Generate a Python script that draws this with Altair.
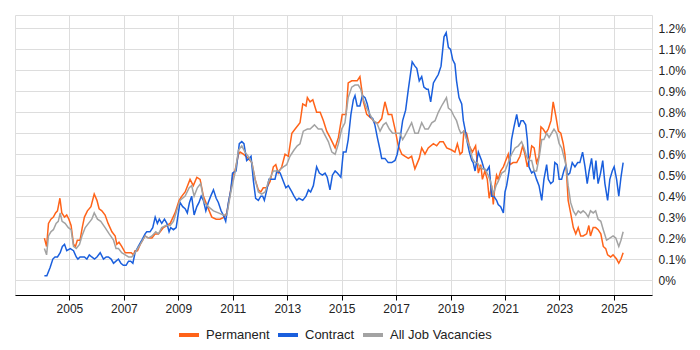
import altair as alt
import pandas as pd

# Permanent (orange)
perm_year = [2004.08, 2004.16, 2004.23, 2004.32, 2004.41, 2004.49, 2004.56, 2004.65, 2004.72, 2004.82, 2004.90, 2004.98,
             2005.06, 2005.15, 2005.22, 2005.29, 2005.39, 2005.47, 2005.55, 2005.66, 2005.79, 2005.91, 2006.01, 2006.09,
             2006.19, 2006.31, 2006.42, 2006.56, 2006.68, 2006.74, 2006.82, 2006.92, 2007.05, 2007.17, 2007.27, 2007.35,
             2007.41, 2007.50, 2007.60, 2007.78, 2007.90, 2008.03, 2008.15, 2008.27, 2008.45, 2008.58, 2008.70, 2008.88,
             2009.03, 2009.13, 2009.25, 2009.43, 2009.55, 2009.68, 2009.80, 2009.92, 2010.07, 2010.23, 2010.39, 2010.53,
             2010.68, 2010.78, 2010.90, 2011.02, 2011.08, 2011.21, 2011.27, 2011.39, 2011.57, 2011.70, 2011.82, 2011.94,
             2012.03, 2012.12, 2012.25, 2012.37, 2012.49, 2012.58, 2012.67, 2012.80, 2012.92, 2013.04, 2013.17, 2013.29,
             2013.47, 2013.57, 2013.69, 2013.74, 2013.84, 2013.94, 2014.08, 2014.21, 2014.33, 2014.45, 2014.57, 2014.76,
             2014.88, 2015.02, 2015.16, 2015.24, 2015.37, 2015.49, 2015.57, 2015.67, 2015.80, 2015.92, 2016.10, 2016.22,
             2016.35, 2016.47, 2016.59, 2016.71, 2016.84, 2016.96, 2017.08, 2017.21, 2017.33, 2017.45, 2017.57, 2017.69,
             2017.85, 2017.94, 2018.06, 2018.18, 2018.37, 2018.49, 2018.61, 2018.73, 2018.86, 2019.04, 2019.16, 2019.25,
             2019.35, 2019.43, 2019.49, 2019.59, 2019.69, 2019.80, 2019.92, 2020.02, 2020.11, 2020.17, 2020.26, 2020.35,
             2020.42, 2020.51, 2020.57, 2020.63, 2020.69, 2020.75, 2020.84, 2020.94, 2021.00, 2021.12, 2021.18, 2021.30,
             2021.43, 2021.55, 2021.65, 2021.73, 2021.82, 2021.92, 2021.98, 2022.07, 2022.16, 2022.25, 2022.32, 2022.40,
             2022.50, 2022.59, 2022.69, 2022.77, 2022.87, 2022.96, 2023.05, 2023.14, 2023.20, 2023.26, 2023.32, 2023.41,
             2023.51, 2023.60, 2023.69, 2023.78, 2023.87, 2024.00, 2024.08, 2024.14, 2024.24, 2024.33, 2024.42, 2024.52,
             2024.61, 2024.70, 2024.77, 2024.88, 2024.97, 2025.10, 2025.18, 2025.26, 2025.34]
perm_val = [0.20, 0.16, 0.27, 0.29, 0.30, 0.32, 0.33, 0.39, 0.32, 0.30, 0.31, 0.29,
            0.26, 0.17, 0.16, 0.19, 0.19, 0.25, 0.30, 0.33, 0.35, 0.41, 0.38, 0.34,
            0.33, 0.31, 0.27, 0.23, 0.21, 0.17, 0.18, 0.16, 0.13, 0.13, 0.13, 0.12,
            0.14, 0.14, 0.17, 0.21, 0.20, 0.20, 0.22, 0.22, 0.25, 0.26, 0.27, 0.32,
            0.38, 0.40, 0.42, 0.48, 0.45, 0.49, 0.48, 0.40, 0.35, 0.30, 0.29, 0.29,
            0.30, 0.32, 0.41, 0.51, 0.52, 0.60, 0.61, 0.60, 0.58, 0.56, 0.48, 0.43,
            0.42, 0.44, 0.44, 0.47, 0.54, 0.55, 0.51, 0.54, 0.60, 0.59, 0.70, 0.72,
            0.75, 0.84, 0.83, 0.87, 0.85, 0.86, 0.80, 0.80, 0.76, 0.71, 0.68, 0.63,
            0.68, 0.79, 0.79, 0.94, 0.95, 0.95, 0.95, 0.97, 0.85, 0.79, 0.77, 0.75,
            0.75, 0.77, 0.85, 0.79, 0.79, 0.72, 0.64, 0.60, 0.59, 0.58, 0.59, 0.53,
            0.58, 0.63, 0.60, 0.63, 0.65, 0.64, 0.66, 0.66, 0.63, 0.62, 0.61, 0.65,
            0.60, 0.61, 0.71, 0.70, 0.64, 0.61, 0.64, 0.51, 0.55, 0.48, 0.52, 0.48,
            0.39, 0.45, 0.36, 0.45, 0.50, 0.48, 0.52, 0.54, 0.56, 0.60, 0.55, 0.56,
            0.56, 0.59, 0.64, 0.60, 0.54, 0.59, 0.64, 0.63, 0.56, 0.59, 0.73, 0.72,
            0.70, 0.72, 0.76, 0.85, 0.78, 0.71, 0.70, 0.65, 0.60, 0.51, 0.38, 0.32,
            0.25, 0.22, 0.25, 0.21, 0.21, 0.22, 0.26, 0.21, 0.25, 0.25, 0.24, 0.22,
            0.16, 0.15, 0.12, 0.11, 0.12, 0.10, 0.08, 0.10, 0.13]

# Contract (blue)
cont_year = [2004.08, 2004.17, 2004.29, 2004.39, 2004.47, 2004.56, 2004.66, 2004.74, 2004.82, 2004.90, 2005.03, 2005.15,
             2005.25, 2005.31, 2005.39, 2005.49, 2005.55, 2005.64, 2005.73, 2005.82, 2005.92, 2006.01, 2006.13, 2006.25,
             2006.35, 2006.43, 2006.53, 2006.62, 2006.71, 2006.80, 2006.89, 2006.98, 2007.08, 2007.17, 2007.25, 2007.33,
             2007.41, 2007.53, 2007.66, 2007.78, 2007.84, 2007.96, 2008.06, 2008.15, 2008.23, 2008.30, 2008.39, 2008.49,
             2008.58, 2008.66, 2008.72, 2008.82, 2008.92, 2009.06, 2009.16, 2009.25, 2009.33, 2009.41, 2009.49, 2009.58,
             2009.68, 2009.76, 2009.84, 2009.92, 2010.01, 2010.10, 2010.19, 2010.29, 2010.39, 2010.47, 2010.57, 2010.65,
             2010.74, 2010.84, 2010.93, 2010.99, 2011.12, 2011.24, 2011.33, 2011.41, 2011.51, 2011.60, 2011.67, 2011.76,
             2011.84, 2011.94, 2012.03, 2012.10, 2012.16, 2012.25, 2012.33, 2012.43, 2012.55, 2012.62, 2012.74, 2012.86,
             2012.95, 2013.04, 2013.17, 2013.25, 2013.35, 2013.43, 2013.57, 2013.69, 2013.78, 2013.86, 2013.96, 2014.08,
             2014.18, 2014.29, 2014.39, 2014.47, 2014.57, 2014.66, 2014.76, 2014.84, 2014.97, 2015.06, 2015.16, 2015.24,
             2015.34, 2015.43, 2015.49, 2015.57, 2015.67, 2015.76, 2015.86, 2015.94, 2016.04, 2016.14, 2016.22, 2016.31,
             2016.41, 2016.47, 2016.59, 2016.71, 2016.84, 2016.96, 2017.04, 2017.14, 2017.24, 2017.35, 2017.45, 2017.59,
             2017.69, 2017.76, 2017.85, 2017.94, 2018.02, 2018.12, 2018.18, 2018.27, 2018.37, 2018.46, 2018.55, 2018.65,
             2018.76, 2018.84, 2018.92, 2019.00, 2019.08, 2019.16, 2019.22, 2019.31, 2019.41, 2019.47, 2019.53, 2019.61,
             2019.69, 2019.78, 2019.83, 2019.90, 2020.02, 2020.14, 2020.23, 2020.33, 2020.42, 2020.51, 2020.59, 2020.69,
             2020.75, 2020.84, 2020.94, 2021.00, 2021.06, 2021.15, 2021.24, 2021.33, 2021.43, 2021.51, 2021.59, 2021.67,
             2021.76, 2021.82, 2021.88, 2021.98, 2022.06, 2022.16, 2022.25, 2022.35, 2022.43, 2022.53, 2022.59, 2022.68,
             2022.77, 2022.83, 2022.92, 2022.99, 2023.08, 2023.16, 2023.24, 2023.30, 2023.38, 2023.47, 2023.57, 2023.67,
             2023.75, 2023.85, 2023.94, 2024.02, 2024.09, 2024.18, 2024.27, 2024.34, 2024.42, 2024.51, 2024.59, 2024.67,
             2024.77, 2024.85, 2024.94, 2025.01, 2025.10, 2025.18, 2025.26, 2025.34]
cont_val = [0.02, 0.02, 0.06, 0.10, 0.11, 0.11, 0.13, 0.16, 0.17, 0.14, 0.15, 0.14,
            0.11, 0.10, 0.11, 0.11, 0.11, 0.10, 0.12, 0.11, 0.10, 0.11, 0.13, 0.10,
            0.11, 0.11, 0.10, 0.08, 0.09, 0.10, 0.08, 0.07, 0.07, 0.09, 0.09, 0.08,
            0.13, 0.16, 0.19, 0.22, 0.23, 0.23, 0.25, 0.30, 0.27, 0.29, 0.27, 0.29,
            0.27, 0.23, 0.25, 0.24, 0.25, 0.37, 0.35, 0.34, 0.32, 0.37, 0.40, 0.31,
            0.35, 0.37, 0.40, 0.38, 0.33, 0.37, 0.40, 0.43, 0.39, 0.37, 0.33, 0.31,
            0.28, 0.37, 0.43, 0.51, 0.52, 0.65, 0.66, 0.65, 0.57, 0.58, 0.59, 0.47,
            0.39, 0.38, 0.40, 0.40, 0.38, 0.43, 0.48, 0.48, 0.48, 0.52, 0.51, 0.47,
            0.44, 0.45, 0.42, 0.40, 0.38, 0.39, 0.38, 0.40, 0.43, 0.42, 0.45, 0.54,
            0.51, 0.50, 0.51, 0.49, 0.43, 0.50, 0.52, 0.51, 0.49, 0.61, 0.61, 0.67,
            0.79, 0.86, 0.88, 0.83, 0.83, 0.88, 0.87, 0.84, 0.78, 0.77, 0.74, 0.68,
            0.62, 0.58, 0.58, 0.56, 0.56, 0.57, 0.60, 0.67, 0.76, 0.81, 0.91, 1.04,
            1.02, 1.01, 0.95, 0.97, 0.92, 0.91, 0.91, 0.85, 0.94, 0.96, 0.98, 1.02,
            1.16, 1.18, 1.11, 1.10, 1.05, 1.03, 0.95, 0.87, 0.84, 0.76, 0.72, 0.66,
            0.61, 0.57, 0.56, 0.52, 0.61, 0.57, 0.53, 0.52, 0.54, 0.40, 0.40, 0.38,
            0.36, 0.35, 0.32, 0.42, 0.45, 0.52, 0.67, 0.73, 0.79, 0.73, 0.76, 0.76,
            0.74, 0.67, 0.54, 0.51, 0.52, 0.48, 0.45, 0.38, 0.48, 0.55, 0.48, 0.46,
            0.47, 0.56, 0.55, 0.48, 0.48, 0.52, 0.55, 0.50, 0.51, 0.56, 0.54, 0.56,
            0.56, 0.61, 0.54, 0.46, 0.52, 0.58, 0.48, 0.57, 0.46, 0.51, 0.57, 0.46,
            0.38, 0.48, 0.52, 0.54, 0.48, 0.40, 0.49, 0.56]

# All Job Vacancies (grey)
all_year = [2004.08, 2004.16, 2004.23, 2004.32, 2004.41, 2004.51, 2004.59, 2004.66, 2004.73, 2004.84, 2004.96, 2005.06,
            2005.15, 2005.25, 2005.37, 2005.46, 2005.58, 2005.70, 2005.82, 2005.91, 2006.03, 2006.15, 2006.31, 2006.46,
            2006.62, 2006.71, 2006.80, 2006.92, 2007.05, 2007.17, 2007.29, 2007.41, 2007.60, 2007.78, 2007.90, 2008.03,
            2008.17, 2008.27, 2008.39, 2008.54, 2008.70, 2008.82, 2008.94, 2009.06, 2009.25, 2009.40, 2009.49, 2009.58,
            2009.70, 2009.82, 2009.95, 2010.10, 2010.29, 2010.47, 2010.65, 2010.78, 2010.93, 2011.08, 2011.21, 2011.33,
            2011.45, 2011.57, 2011.70, 2011.82, 2011.94, 2012.06, 2012.19, 2012.31, 2012.49, 2012.67, 2012.86, 2012.98,
            2013.10, 2013.25, 2013.37, 2013.47, 2013.59, 2013.74, 2013.84, 2014.00, 2014.14, 2014.27, 2014.39, 2014.51,
            2014.64, 2014.76, 2014.88, 2015.00, 2015.12, 2015.24, 2015.37, 2015.49, 2015.61, 2015.70, 2015.80, 2015.92,
            2016.04, 2016.16, 2016.29, 2016.41, 2016.53, 2016.63, 2016.75, 2016.87, 2017.02, 2017.14, 2017.24, 2017.33,
            2017.45, 2017.57, 2017.69, 2017.81, 2017.94, 2018.06, 2018.18, 2018.31, 2018.43, 2018.55, 2018.67, 2018.76,
            2018.85, 2018.92, 2019.02, 2019.13, 2019.22, 2019.31, 2019.38, 2019.49, 2019.59, 2019.69, 2019.80, 2019.90,
            2019.98, 2020.08, 2020.18, 2020.26, 2020.38, 2020.47, 2020.57, 2020.67, 2020.75, 2020.88, 2021.00, 2021.12,
            2021.24, 2021.37, 2021.49, 2021.61, 2021.70, 2021.79, 2021.89, 2021.98, 2022.07, 2022.16, 2022.26, 2022.35,
            2022.43, 2022.53, 2022.62, 2022.71, 2022.80, 2022.90, 2022.99, 2023.08, 2023.16, 2023.24, 2023.32, 2023.41,
            2023.51, 2023.60, 2023.69, 2023.78, 2023.87, 2023.96, 2024.06, 2024.14, 2024.24, 2024.33, 2024.42, 2024.52,
            2024.61, 2024.73, 2024.85, 2024.97, 2025.07, 2025.18, 2025.26, 2025.34]
all_val = [0.15, 0.12, 0.21, 0.23, 0.24, 0.27, 0.28, 0.32, 0.28, 0.27, 0.25, 0.24,
           0.16, 0.15, 0.17, 0.21, 0.25, 0.27, 0.29, 0.32, 0.29, 0.28, 0.25, 0.22,
           0.19, 0.15, 0.15, 0.13, 0.12, 0.11, 0.11, 0.13, 0.17, 0.21, 0.20, 0.21,
           0.23, 0.22, 0.25, 0.26, 0.26, 0.28, 0.33, 0.38, 0.40, 0.44, 0.45, 0.40,
           0.44, 0.46, 0.37, 0.35, 0.33, 0.32, 0.31, 0.31, 0.42, 0.51, 0.62, 0.64,
           0.61, 0.59, 0.56, 0.48, 0.42, 0.41, 0.42, 0.47, 0.52, 0.52, 0.54, 0.55,
           0.59, 0.62, 0.64, 0.65, 0.71, 0.72, 0.72, 0.74, 0.72, 0.72, 0.69, 0.66,
           0.61, 0.60, 0.65, 0.72, 0.75, 0.87, 0.92, 0.93, 0.93, 0.91, 0.86, 0.82,
           0.79, 0.76, 0.75, 0.71, 0.74, 0.75, 0.72, 0.70, 0.70, 0.70, 0.67, 0.69,
           0.72, 0.75, 0.70, 0.70, 0.75, 0.72, 0.72, 0.75, 0.76, 0.80, 0.83, 0.85,
           0.87, 0.82, 0.81, 0.78, 0.76, 0.72, 0.70, 0.71, 0.67, 0.64, 0.58, 0.56,
           0.56, 0.54, 0.53, 0.53, 0.50, 0.47, 0.41, 0.45, 0.47, 0.51, 0.52, 0.56,
           0.60, 0.63, 0.64, 0.66, 0.63, 0.59, 0.57, 0.57, 0.52, 0.52, 0.59, 0.67,
           0.67, 0.70, 0.68, 0.70, 0.72, 0.70, 0.65, 0.63, 0.59, 0.55, 0.45, 0.37,
           0.33, 0.31, 0.33, 0.32, 0.33, 0.32, 0.30, 0.33, 0.32, 0.33, 0.29, 0.28,
           0.24, 0.19, 0.20, 0.21, 0.20, 0.16, 0.19, 0.23]

series_names = ["Permanent", "Contract", "All Job Vacancies"]
series_colors = ["#FF6319", "#1A5FDD", "#A3A3A3"]
year_ticks = [2005, 2007, 2009, 2011, 2013, 2015, 2017, 2019, 2021, 2023, 2025]
pct_ticks = [0.0, 0.1, 0.2, 0.3, 0.4, 0.5, 0.6, 0.7, 0.8, 0.9, 1.0, 1.1, 1.2]

frames = []
for name, xs, ys in [("Permanent", perm_year, perm_val),
                     ("Contract", cont_year, cont_val),
                     ("All Job Vacancies", all_year, all_val)]:
    frames.append(pd.DataFrame({"year": xs, "value": ys, "series": name}))
df = pd.concat(frames, ignore_index=True)

FONT = "Arial"

chart = alt.Chart(df).mark_line(strokeWidth=1.5, clip=True).encode(
    x=alt.X("year:Q",
            scale=alt.Scale(domain=[2003.0, 2026.4], nice=False, zero=False),
            axis=alt.Axis(values=year_ticks, format="d", title=None, orient="bottom",
                          domainColor="#000000", domainWidth=1,
                          tickColor="#000000", tickSize=5,
                          labelFontSize=12, labelColor="#222222", labelPadding=3,
                          labelFont=FONT,
                          gridColor="#dddddd", grid=True)),
    y=alt.Y("value:Q",
            scale=alt.Scale(domain=[-0.0715, 1.264], nice=False, zero=False),
            axis=alt.Axis(values=pct_ticks, orient="right", title=None,
                          domain=False, ticks=False, tickSize=0, labelPadding=6,
                          labelFontSize=12, labelColor="#222222",
                          labelFont=FONT,
                          labelExpr="datum.value == 0 ? '0%' : format(datum.value, '.1f') + '%'",
                          gridColor="#dddddd", grid=True)),
    color=alt.Color("series:N",
                    scale=alt.Scale(domain=series_names, range=series_colors),
                    sort=series_names,
                    legend=alt.Legend(orient="none", legendX=162, legendY=308,
                                      direction="horizontal", title=None,
                                      symbolType="stroke", symbolSize=400,
                                      symbolStrokeWidth=4, labelFontSize=13,
                                      labelFont=FONT, labelColor="#222222",
                                      labelOffset=5, columnPadding=0, padding=0)),
    order=alt.Order("year:Q"),
).properties(
    width=637, height=280,
    padding={"left": 7, "top": 7, "right": 5, "bottom": 5},
).configure_view(stroke=None).configure(background="white")

chart.save("out.html", embed_options={"renderer": "svg", "actions": False})
